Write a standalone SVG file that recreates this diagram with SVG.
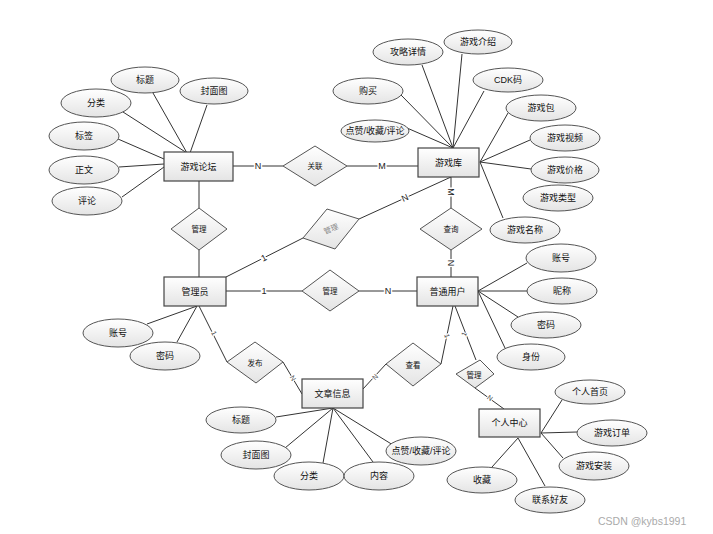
<svg xmlns="http://www.w3.org/2000/svg" width="713" height="534" viewBox="0 0 713 534">
<defs>
<linearGradient id="g" x1="0" y1="0" x2="0" y2="1">
<stop offset="0" stop-color="#ffffff"/>
<stop offset="1" stop-color="#e4e4e4"/>
</linearGradient>
<style>
.e{fill:url(#g);stroke:#555;stroke-width:1}
.r{fill:url(#g);stroke:#444;stroke-width:1.2}
.d{fill:url(#g);stroke:#555;stroke-width:1}
.l{stroke:#333;stroke-width:1;fill:none}
text{font-family:"Liberation Sans","Noto Sans CJK SC",sans-serif;font-size:9px;fill:#111;text-anchor:middle;dominant-baseline:central}
.dt{font-size:7.5px}
.c{font-size:9px;stroke:#fff;stroke-width:3;paint-order:stroke;fill:#222}
.s{font-size:7px;stroke:#fff;stroke-width:2;paint-order:stroke;fill:#444}
.gray{fill:#888}
.wm{font-size:10.5px;fill:#aaa;text-anchor:start}
</style>
</defs>
<rect width="713" height="534" fill="#fff"/>
<g id="connectors">
<line class="l" x1="153" y1="93" x2="187" y2="153"/>
<line class="l" x1="207" y1="105" x2="190" y2="153"/>
<line class="l" x1="123" y1="112" x2="187" y2="153"/>
<line class="l" x1="118" y1="139" x2="164" y2="159"/>
<line class="l" x1="119" y1="167" x2="164" y2="164"/>
<line class="l" x1="122" y1="197" x2="164" y2="167"/>
<line class="l" x1="422" y1="65" x2="453" y2="148"/>
<line class="l" x1="462" y1="54" x2="453" y2="148"/>
<line class="l" x1="484" y1="91" x2="453" y2="148"/>
<line class="l" x1="401" y1="95" x2="453" y2="148"/>
<line class="l" x1="407" y1="128" x2="453" y2="148"/>
<line class="l" x1="508" y1="113" x2="480" y2="162"/>
<line class="l" x1="530" y1="140" x2="480" y2="162"/>
<line class="l" x1="531" y1="169" x2="480" y2="162"/>
<line class="l" x1="503" y1="218" x2="480" y2="162"/>
<line class="l" x1="233" y1="166" x2="283" y2="166"/>
<line class="l" x1="347" y1="166" x2="418" y2="166"/>
<line class="l" x1="199" y1="181" x2="199" y2="208"/>
<line class="l" x1="199" y1="250" x2="199" y2="277"/>
<line class="l" x1="226" y1="277" x2="303" y2="238"/>
<line class="l" x1="359" y1="219" x2="451" y2="177"/>
<line class="l" x1="451" y1="177" x2="451" y2="208"/>
<line class="l" x1="451" y1="250" x2="451" y2="277"/>
<line class="l" x1="226" y1="291" x2="302" y2="291"/>
<line class="l" x1="359" y1="291" x2="417" y2="291"/>
<line class="l" x1="478" y1="291" x2="527" y2="263"/>
<line class="l" x1="478" y1="291" x2="528" y2="291"/>
<line class="l" x1="478" y1="291" x2="518" y2="317"/>
<line class="l" x1="478" y1="291" x2="505" y2="348"/>
<line class="l" x1="197" y1="306" x2="147" y2="324"/>
<line class="l" x1="197" y1="306" x2="177" y2="342"/>
<line class="l" x1="199" y1="306" x2="227" y2="362"/>
<line class="l" x1="283" y1="362" x2="302" y2="394"/>
<line class="l" x1="363" y1="389" x2="386" y2="364"/>
<line class="l" x1="441" y1="364" x2="453" y2="306"/>
<line class="l" x1="455" y1="306" x2="476" y2="360"/>
<line class="l" x1="475" y1="388" x2="504" y2="409"/>
<line class="l" x1="541" y1="433" x2="562" y2="400"/>
<line class="l" x1="541" y1="433" x2="577" y2="432"/>
<line class="l" x1="541" y1="433" x2="563" y2="458"/>
<line class="l" x1="518" y1="438" x2="492" y2="467"/>
<line class="l" x1="518" y1="438" x2="545" y2="486"/>
<line class="l" x1="333" y1="408" x2="276" y2="417"/>
<line class="l" x1="333" y1="408" x2="285" y2="448"/>
<line class="l" x1="333" y1="408" x2="323" y2="463"/>
<line class="l" x1="333" y1="408" x2="373" y2="462"/>
<line class="l" x1="333" y1="408" x2="393" y2="445"/>
<text class="c" x="258" y="166">N</text>
<text class="c" x="382" y="166">M</text>
<text class="c" x="264" y="258" transform="rotate(-27 264 258)">1</text>
<text class="c" x="405" y="198" transform="rotate(-25 405 198)">N</text>
<text class="c" x="451" y="192" transform="rotate(90 451 192)">M</text>
<text class="c" x="451" y="263" transform="rotate(90 451 263)">N</text>
<text class="c" x="264" y="291">1</text>
<text class="c" x="388" y="291">N</text>
<text class="s" x="214" y="333" transform="rotate(63 214 333)">1</text>
<text class="s" x="293" y="378" transform="rotate(58 293 378)">N</text>
<text class="s" x="375" y="377" transform="rotate(-48 375 377)">N</text>
<text class="s" x="447" y="336" transform="rotate(78 447 336)">1</text>
<text class="s" x="464" y="334" transform="rotate(-68 464 334)">1</text>
<text class="s" x="490" y="398" transform="rotate(35 490 398)">N</text>
</g>
<g id="e_forum">
<rect class="r" x="164" y="152" width="69" height="29"/>
<text x="198.5" y="166.5">游戏论坛</text>
</g>
<g id="e_lib">
<rect class="r" x="418" y="148" width="61" height="29"/>
<text x="448.5" y="162.5">游戏库</text>
</g>
<g id="e_admin">
<rect class="r" x="164" y="277" width="62" height="29"/>
<text x="195" y="291.5">管理员</text>
</g>
<g id="e_user">
<rect class="r" x="417" y="277" width="61" height="29"/>
<text x="447.5" y="291.5">普通用户</text>
</g>
<g id="e_article">
<rect class="r" x="302" y="379" width="61" height="29"/>
<text x="332.5" y="393.5">文章信息</text>
</g>
<g id="e_center">
<rect class="r" x="479" y="409" width="61" height="28"/>
<text x="509.5" y="423">个人中心</text>
</g>
<g id="r_assoc">
<polygon class="d" points="283,166 315,146 347,166 315,186"/>
<text class="dt" x="315" y="166">关联</text>
</g>
<g id="r_manage1">
<polygon class="d" points="171,229 199,208 227,229 199,250"/>
<text class="dt" x="199" y="229">管理</text>
</g>
<g id="r_manage2">
<polygon class="d" points="303,238 327,209 359,219 335,249"/>
<text class="dt gray" x="331" y="229" transform="rotate(-22 331 229)">管理</text>
</g>
<g id="r_query">
<polygon class="d" points="420,229 451,208 482,229 451,250"/>
<text class="dt" x="451" y="229">查询</text>
</g>
<g id="r_manage3">
<polygon class="d" points="302,291 330,270 359,291 330,311"/>
<text class="dt" x="330" y="291">管理</text>
</g>
<g id="r_publish">
<polygon class="d" points="227,362 255,342 283,362 256,383"/>
<text class="dt" x="255" y="363">发布</text>
</g>
<g id="r_view">
<polygon class="d" points="386,364 413,343 441,364 413,386"/>
<text class="dt" x="413" y="365">查看</text>
</g>
<g id="r_manage4">
<polygon class="d" points="456,374 480,360 494,374 475,388"/>
<text class="dt" x="474" y="375">管理</text>
</g>
<g id="a_forum">
<ellipse class="e" cx="145" cy="80" rx="34" ry="13"/><text x="145" y="80">标题</text>
<ellipse class="e" cx="214" cy="91" rx="34" ry="13"/><text x="214" y="91">封面图</text>
<ellipse class="e" cx="96" cy="103" rx="35" ry="14"/><text x="96" y="103">分类</text>
<ellipse class="e" cx="84" cy="136" rx="35" ry="14"/><text x="84" y="136">标签</text>
<ellipse class="e" cx="84" cy="170" rx="35" ry="14"/><text x="84" y="170">正文</text>
<ellipse class="e" cx="87" cy="201" rx="35" ry="14"/><text x="87" y="201">评论</text>
</g>
<g id="a_lib">
<ellipse class="e" cx="408" cy="52" rx="35" ry="13"/><text x="408" y="52">攻略详情</text>
<ellipse class="e" cx="478" cy="42" rx="34" ry="12"/><text x="478" y="42">游戏介绍</text>
<ellipse class="e" cx="508" cy="80" rx="35" ry="12"/><text x="508" y="80">CDK码</text>
<ellipse class="e" cx="368" cy="91" rx="35" ry="13"/><text x="368" y="91">购买</text>
<ellipse class="e" cx="541" cy="108" rx="35" ry="13"/><text x="541" y="108">游戏包</text>
<ellipse class="e" cx="375" cy="131" rx="34" ry="11"/><text x="375" y="131">点赞/收藏/评论</text>
<ellipse class="e" cx="565" cy="138" rx="35" ry="13"/><text x="565" y="138">游戏视频</text>
<ellipse class="e" cx="565" cy="170" rx="34" ry="13"/><text x="565" y="170">游戏价格</text>
<ellipse class="e" cx="558" cy="198" rx="35" ry="13"/><text x="558" y="198">游戏类型</text>
<ellipse class="e" cx="525" cy="230" rx="35" ry="13"/><text x="525" y="230">游戏名称</text>
</g>
<g id="a_user">
<ellipse class="e" cx="561" cy="258" rx="35" ry="14"/><text x="561" y="258">账号</text>
<ellipse class="e" cx="562" cy="291" rx="35" ry="13"/><text x="562" y="291">昵称</text>
<ellipse class="e" cx="546" cy="325" rx="35" ry="13"/><text x="546" y="325">密码</text>
<ellipse class="e" cx="531" cy="357" rx="34" ry="13"/><text x="531" y="357">身份</text>
</g>
<g id="a_admin">
<ellipse class="e" cx="118" cy="333" rx="35" ry="14"/><text x="118" y="333">账号</text>
<ellipse class="e" cx="165" cy="356" rx="35" ry="14"/><text x="165" y="356">密码</text>
</g>
<g id="a_article">
<ellipse class="e" cx="241" cy="420" rx="35" ry="13"/><text x="241" y="420">标题</text>
<ellipse class="e" cx="256" cy="455" rx="35" ry="14"/><text x="256" y="455">封面图</text>
<ellipse class="e" cx="309" cy="476" rx="35" ry="14"/><text x="309" y="476">分类</text>
<ellipse class="e" cx="379" cy="476" rx="35" ry="14"/><text x="379" y="476">内容</text>
<ellipse class="e" cx="421" cy="451" rx="35" ry="14"/><text x="421" y="451">点赞/收藏/评论</text>
</g>
<g id="a_center">
<ellipse class="e" cx="590" cy="392" rx="35" ry="12"/><text x="590" y="392">个人首页</text>
<ellipse class="e" cx="612" cy="433" rx="35" ry="13"/><text x="612" y="433">游戏订单</text>
<ellipse class="e" cx="594" cy="466" rx="35" ry="14"/><text x="594" y="466">游戏安装</text>
<ellipse class="e" cx="482" cy="480" rx="35" ry="13"/><text x="482" y="480">收藏</text>
<ellipse class="e" cx="550" cy="500" rx="35" ry="13"/><text x="550" y="500">联系好友</text>
</g>
<text class="wm" x="598" y="521">CSDN @kybs1991</text>
</svg>
